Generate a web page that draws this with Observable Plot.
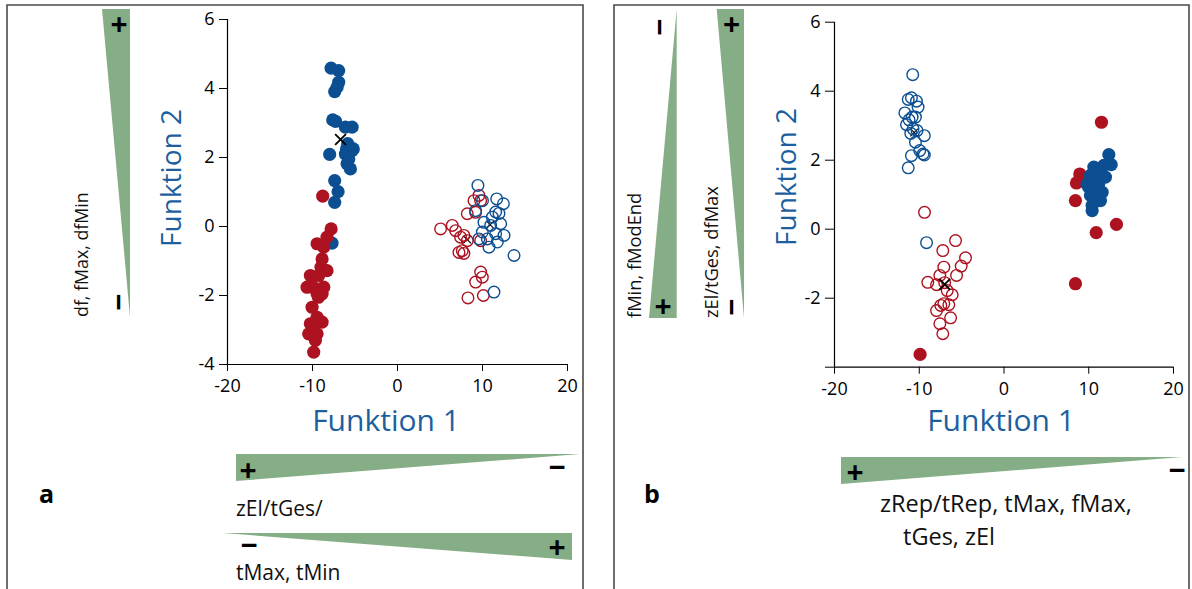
<!DOCTYPE html>
<html>
<head>
<meta charset="utf-8">
<script src="https://cdn.jsdelivr.net/npm/d3@7"></script>
<script src="https://cdn.jsdelivr.net/npm/@observablehq/plot@0.6"></script>
<style>
  body { margin: 0; background: #fff; }
  #chart { position: relative; width: 1192px; height: 589px; overflow: hidden; background: #fff; }
  #chart svg { position: absolute; top: 0; }
</style>
</head>
<body>
<div id="chart"></div>
<script>
// ---------- data ----------
const xTicks = [-20, -10, 0, 10, 20];
const yTicksA = [6, 4, 2, 0, -2, -4];
const yTicksB = [6, 4, 2, 0, -2, -4];
const yLabelsB = {"6": "6", "4": "4", "2": "2", "0": "0", "-2": "-2", "-4": ""};

// Panel a
const aBlueFilled = [
  [-7.81, 4.59], [-6.92, 4.52], [-6.92, 4.18], [-7.1, 4.04], [-7.39, 3.91],
  [-7.62, 3.09], [-7.3, 3.05], [-6.13, 2.88], [-5.34, 2.88], [-7.98, 2.09],
  [-5.86, 2.4], [-5.34, 2.2], [-6.13, 2.1], [-5.74, 1.96], [-5.54, 1.67],
  [-5.93, 1.82], [-5.2, 2.25], [-5.6, 2.3], [-6.0, 2.25], [-7.39, 1.33],
  [-6.99, 1.01], [-7.39, 0.7], [-7.7, -0.48]
];
const aRedFilled = [
  [-8.8, 0.88], [-7.81, -0.07], [-8.29, -0.31], [-9.46, -0.5], [-8.68, -0.6],
  [-8.87, -0.94], [-9.0, -1.18], [-8.29, -1.28], [-10.25, -1.42], [-9.27, -1.42],
  [-10.64, -1.76], [-8.68, -1.76], [-9.9, -1.76], [-9.46, -1.95], [-8.87, -1.95],
  [-9.3, -2.05], [-10.05, -2.34], [-9.46, -2.63], [-8.87, -2.77], [-10.25, -2.82],
  [-9.7, -2.82], [-10.45, -3.11], [-9.46, -3.11], [-9.66, -3.3], [-9.86, -3.64]
];
const aRedOpen = [
  [5.07, -0.07], [6.44, 0.03], [6.84, -0.12], [9.58, 0.9], [9.0, 0.75],
  [9.78, 0.75], [8.21, 0.37], [9.19, 0.41], [7.81, -0.26], [8.21, -0.41],
  [7.62, -0.7], [7.23, -0.75], [7.81, -0.78], [9.78, -0.41], [9.78, -1.32],
  [9.98, -1.47], [9.19, -1.61], [10.1, -2.0], [8.29, -2.07], [7.42, -0.31]
];
const aBlueOpen = [
  [9.46, 1.19], [11.67, 0.8], [12.46, 0.66], [10.0, 0.75], [11.55, 0.42],
  [11.94, 0.38], [9.19, 0.46], [10.17, 0.12], [12.14, 0.08], [10.96, 0.03],
  [9.98, -0.16], [11.55, -0.21], [12.53, -0.26], [10.57, -0.36], [11.75, -0.45],
  [10.76, -0.6], [13.71, -0.84], [11.35, -1.9], [11.16, 0.27], [9.58, -0.36]
];
const aCentroidsMain = [[-6.7, 2.52]];
const aCentroidsMinor = [[8.2, -0.38], [10.9, 0.05]];

// Panel b
const bBlueOpen = [
  [-10.77, 4.48], [-10.92, 3.81], [-11.3, 3.76], [-10.33, 3.71], [-10.14, 3.54],
  [-11.7, 3.37], [-10.84, 3.25], [-10.45, 3.25], [-11.2, 3.17], [-11.5, 3.03],
  [-10.73, 2.91], [-10.26, 2.86], [-11.0, 2.78], [-9.4, 2.71], [-10.45, 2.52],
  [-9.94, 2.28], [-9.55, 2.18], [-9.4, 2.15], [-10.92, 2.13], [-11.3, 1.78],
  [-9.14, -0.39]
];
const bRedOpen = [
  [-9.38, 0.49], [-5.72, -0.33], [-7.22, -0.62], [-4.54, -0.83], [-5.05, -1.07],
  [-7.1, -1.1], [-5.6, -1.34], [-7.57, -1.34], [-8.99, -1.54], [-7.96, -1.61],
  [-6.7, -1.78], [-6.11, -1.9], [-7.1, -2.16], [-6.51, -2.19], [-7.46, -2.21],
  [-7.96, -2.36], [-6.3, -2.57], [-7.57, -2.74], [-7.22, -3.03], [-7.0, -1.55]
];
const bRedFilled = [
  [-9.9, -3.63], [11.5, 3.1], [8.94, 1.6], [8.55, 1.34], [8.43, 0.83],
  [10.88, -0.1], [13.27, 0.14], [8.43, -1.58]
];
const bBlueFilled = [
  [12.37, 2.16], [12.65, 1.87], [11.78, 1.85], [10.6, 1.8], [10.2, 1.56],
  [11.38, 1.56], [11.97, 1.51], [11.18, 1.32], [10.0, 1.22], [10.79, 1.12],
  [11.58, 1.07], [10.2, 0.98], [11.38, 0.83], [10.4, 0.69], [10.4, 0.54],
  [9.8, 1.3], [10.3, 1.4], [11.0, 1.65], [10.6, 0.95], [11.1, 1.2]
];
const bCentroidsMain = [[-7.0, -1.6]];
const bCentroidsMinor = [[-10.6, 2.8]];

// annotation texts
const aVertLabel = "df, fMax, dfMin";
const aHorLabel1 = "zEl/tGes/";
const aHorLabel2 = "tMax, tMin";
const bVertLabel1 = "fMin, fModEnd";
const bVertLabel2 = "zEl/tGes, dfMax";
const bHorLabel1 = "zRep/tRep, tMax, fMax,";
const bHorLabel2 = "tGes, zEl";
const xTitle = "Funktion 1";
const yTitle = "Funktion 2";

// ---------- style ----------
const BLUE = "#0b4f92";
const RED = "#ad1220";
const GREEN = "#86ae86";
const TITLE_BLUE = "#1d5f9e";
const FONT = "'Open Sans', 'Noto Sans', sans-serif";

function makePanel(cfg) {
  const marks = [
    Plot.ruleY([-4], {stroke: "#000", strokeWidth: 1.2}),
    Plot.ruleX([-20], {stroke: "#000", strokeWidth: 1.2}),
    Plot.axisX({ticks: xTicks, tickFormat: d => String(d), tickSize: 7, tickPadding: 8,
                fontSize: 18, label: null, stroke: "#000"}),
    Plot.axisY({ticks: cfg.yTicks, tickFormat: cfg.yFormat, tickSize: cfg.yTickSize, tickPadding: 5,
                fontSize: 18, label: null, stroke: "#000"})
  ];
  marks.push(Plot.dot(cfg.minor, {x: d => d[0], y: d => d[1], symbol: "times", r: 3.6,
    stroke: "#000", strokeWidth: 1.1}));
  for (const layer of cfg.layers) {
    if (layer.open) {
      marks.push(Plot.dot(layer.data, {x: d => d[0], y: d => d[1], r: 5.8, stroke: layer.color,
        strokeWidth: 1.4, fill: "none"}));
    } else {
      marks.push(Plot.dot(layer.data, {x: d => d[0], y: d => d[1], r: 6.6, fill: layer.color, stroke: "none"}));
    }
  }
  marks.push(Plot.dot(cfg.main, {x: d => d[0], y: d => d[1], symbol: "times", r: 5,
    stroke: "#000", strokeWidth: 1.8}));
  const svg = Plot.plot({
    width: cfg.width, height: 589,
    marginLeft: cfg.ml, marginRight: cfg.mr, marginTop: cfg.mt, marginBottom: cfg.mb,
    x: {domain: [-20, 20]},
    y: {domain: [-4, 6]},
    style: {fontFamily: FONT, fontSize: "18px", color: "#000", background: "none", overflow: "visible"},
    marks
  });
  svg.style.left = cfg.left + "px";
  return svg;
}

function decorate(svg, cfg) {
  const g = d3.select(svg).append("g").attr("font-family", FONT).attr("text-anchor", "start");
  // border
  g.append("path").attr("d", cfg.border).attr("fill", "none").attr("stroke", "#4a4a4a").attr("stroke-width", 1.6);
  // wedges
  for (const w of cfg.wedges) {
    g.append("polygon").attr("points", w.map(p => p.join(",")).join(" ")).attr("fill", GREEN);
  }
  // signs
  for (const s of cfg.signs) {
    g.append("text").attr("transform", `translate(${s[0]},${s[1]}) rotate(${s[3] || 0})`)
      .attr("text-anchor", "middle").attr("dominant-baseline", "central")
      .attr("font-size", 30).attr("font-weight", 700).attr("fill", "#000").text(s[2]);
  }
  // plain labels
  for (const t of cfg.texts) {
    g.append("text").attr("transform", `translate(${t[0]},${t[1]}) rotate(${t[3] || 0})`)
      .attr("text-anchor", "start")
      .attr("font-size", t[4] || 19).attr("fill", "#111").text(t[2]);
  }
  // axis titles
  g.append("text").attr("x", cfg.xTitle[0]).attr("y", cfg.xTitle[1]).attr("text-anchor", "middle")
    .attr("font-size", 30).attr("fill", TITLE_BLUE).text(xTitle);
  g.append("text").attr("transform", `translate(${cfg.yTitle[0]},${cfg.yTitle[1]}) rotate(-90)`)
    .attr("text-anchor", "middle").attr("font-size", 28).attr("fill", TITLE_BLUE).text(yTitle);
  // panel letter
  g.append("text").attr("x", cfg.letter[0]).attr("y", cfg.letter[1]).attr("font-size", 25)
    .attr("text-anchor", "start")
    .attr("font-weight", 700).attr("fill", "#000").text(cfg.letter[2]);
}

const chart = document.getElementById("chart");

// Panel a
const svgA = makePanel({
  left: 0, width: 600, ml: 227, mr: 33, mt: 19, mb: 225,
  yTicks: yTicksA, yFormat: d => String(d), yTickSize: 8,
  layers: [
    {data: aBlueFilled, color: BLUE},
    {data: aRedFilled, color: RED},
    {data: aRedOpen, color: RED, open: true},
    {data: aBlueOpen, color: BLUE, open: true}
  ],
  main: aCentroidsMain, minor: aCentroidsMinor
});
chart.appendChild(svgA);
decorate(svgA, {
  border: "M7,600 L7,5 L583,5 L583,600",
  wedges: [
    [[102, 9], [130, 9], [130, 317]],
    [[236, 454], [580, 454], [236, 481]],
    [[223, 533], [572, 533], [572, 560]]
  ],
  signs: [
    [119, 23, "+"], [119, 302, "−", 90],
    [248, 469, "+"], [557, 466, "−"],
    [249, 544, "−"], [557, 546, "+"]
  ],
  texts: [
    [88, 317, aVertLabel, -90, 17.8],
    [236, 516, aHorLabel1, 0, 21],
    [236, 580, aHorLabel2, 0, 21]
  ],
  xTitle: [386, 431],
  yTitle: [181, 178],
  letter: [39, 503, "a"]
});

// Panel b
const svgB = makePanel({
  left: 600, width: 592, ml: 234, mr: 19, mt: 21.7, mb: 222.3,
  yTicks: yTicksB, yFormat: d => yLabelsB[String(d)], yTickSize: 9,
  layers: [
    {data: bBlueOpen, color: BLUE, open: true},
    {data: bRedOpen, color: RED, open: true},
    {data: bRedFilled, color: RED},
    {data: bBlueFilled, color: BLUE}
  ],
  main: bCentroidsMain, minor: bCentroidsMinor
});
chart.appendChild(svgB);
decorate(svgB, {
  border: "M14,600 L14,5 L589,5 L589,600",
  wedges: [
    [[76.7, 9], [76.7, 318], [49, 318]],
    [[116.7, 9], [144, 9], [144, 318]],
    [[241, 457], [582, 457], [241, 484]]
  ],
  signs: [
    [60, 27, "−", 90], [63, 305, "+"],
    [131.5, 23, "+"], [132.5, 307, "−", 90],
    [255, 471, "+"], [577, 469, "−"]
  ],
  texts: [
    [41, 318, bVertLabel1, -90, 18.3],
    [118, 318, bVertLabel2, -90, 18.3],
    [280, 512, bHorLabel1, 0, 23.5],
    [303, 545, bHorLabel2, 0, 23.5]
  ],
  xTitle: [401, 431],
  yTitle: [196, 177],
  letter: [44, 503, "b"]
});
</script>
</body>
</html>
